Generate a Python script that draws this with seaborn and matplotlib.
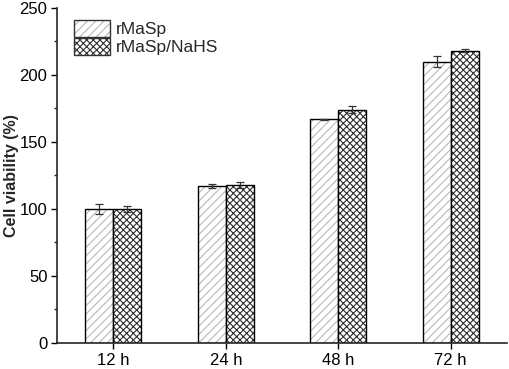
import pandas as pd
import matplotlib
matplotlib.use("Agg")
import matplotlib.pyplot as plt
import seaborn as sns

# --------------------------------------------------------------------
# DATA
# --------------------------------------------------------------------
time_points = ["12 h", "24 h", "48 h", "72 h"]
groups = ["rMaSp", "rMaSp/NaHS"]
viability_rmasp = [100, 117.5, 167, 210]
viability_nahs = [100, 118, 174, 218]
err_rmasp = [3.5, 1.5, 0.5, 4]
err_nahs = [2.5, 2, 2.5, 1]

df = pd.DataFrame({
    "Time": time_points * 2,
    "Group": [groups[0]] * 4 + [groups[1]] * 4,
    "Viability": viability_rmasp + viability_nahs,
})

sns.set_theme(style="ticks")
plt.rcParams["font.family"] = ["Liberation Sans", "DejaVu Sans"]
plt.rcParams["hatch.linewidth"] = 0.8

fig = plt.figure(figsize=(5.1, 3.69), dpi=100)
ax = fig.add_axes([0.112, 0.0705, 0.882, 0.908])

sns.barplot(data=df, x="Time", y="Viability", hue="Group", order=time_points,
            hue_order=groups, width=0.5, gap=0, ax=ax, errorbar=None,
            palette=["white", "white"], edgecolor="black", linewidth=1.0)

hatches = ["////", "xxxxx"]
hatch_colors = ["#b8b8b8", "#303030"]
for cont, h, hc, errs in zip(ax.containers, hatches, hatch_colors,
                             [err_rmasp, err_nahs]):
    xs, ys = [], []
    for bar in cont:
        bar.set_hatch(h)
        bar._hatch_color = matplotlib.colors.to_rgba(hc)
        xs.append(bar.get_x() + bar.get_width() / 2)
        ys.append(bar.get_height())
    ax.errorbar(xs, ys, yerr=errs, fmt="none", ecolor="#333333",
                elinewidth=0.9, capsize=3, capthick=0.9)

ax.set_ylim(0, 250)
ax.set_xlim(-0.5, 3.5)
ax.set_yticks([0, 50, 100, 150, 200, 250])
ax.set_yticks([25, 75, 125, 175, 225], minor=True)
ax.set_xlabel("")
ax.set_ylabel("Cell viability (%)", fontsize=11.5, fontweight="bold")
ax.yaxis.set_label_coords(-0.085, 0.5)
ax.tick_params(axis="both", labelsize=12, direction="out", length=4,
               width=1, colors="black", pad=3)
ax.tick_params(axis="y", which="minor", length=2.5, width=1)
for side in ["top", "right"]:
    ax.spines[side].set_visible(False)
for side in ["left", "bottom"]:
    ax.spines[side].set_linewidth(1.2)

leg = ax.legend(loc="upper left", frameon=False, fontsize=12.5,
                bbox_to_anchor=(0.01, 1.0), handlelength=2.1,
                handleheight=1.1, handletextpad=0.3, labelspacing=0.05,
                borderaxespad=0.3)
for patch, h, hc in zip(leg.get_patches(), hatches, hatch_colors):
    patch.set_hatch(h)
    patch.set_edgecolor("#333333")
    patch._hatch_color = matplotlib.colors.to_rgba(hc)

fig.savefig("out.png", dpi=100)
